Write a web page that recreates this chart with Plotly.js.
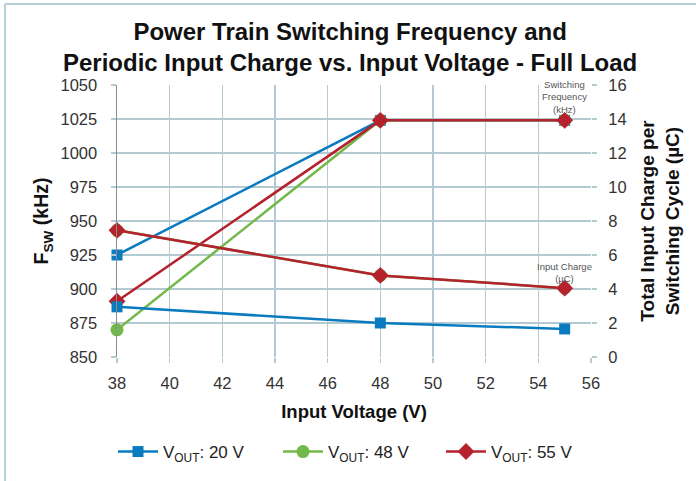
<!DOCTYPE html>
<html>
<head>
<meta charset="utf-8">
<script src="https://cdn.plot.ly/plotly-3.0.1.min.js"></script>
<style>
html,body{margin:0;padding:0;background:#fff;}
#chart{width:696px;height:481px;}
</style>
</head>
<body>
<div id="chart"></div>
<script>
const inputVoltage = [38, 48, 55];
const seriesNames = ['V<sub>OUT</sub>: 20 V', 'V<sub>OUT</sub>: 48 V', 'V<sub>OUT</sub>: 55 V'];
const freq20 = [925, 1024, 1024];
const freq48 = [870, 1024, 1024];
const freq55 = [891, 1024, 1024];
const charge20 = [2.95, 2.0, 1.65];
const charge48 = [7.45, 4.8, 4.05];
const charge55 = [7.45, 4.8, 4.05];
const xTicks = [38, 40, 42, 44, 46, 48, 50, 52, 54, 56];

const colors = ['#0a7bbf', '#72b84a', '#b5222d'];
const symbols = ['square', 'circle', 'diamond'];
const sizes = [11, 13, 13];
const freqs = [freq20, freq48, freq55];
const charges = [charge20, charge48, charge55];
const legendIds = ['legend', 'legend2', 'legend3'];
const legendLeft = [113, 278, 441];

const traces = [];
for (let i = 0; i < 3; i++) {
  traces.push({
    x: inputVoltage, y: freqs[i], yaxis: 'y', type: 'scatter', mode: 'lines+markers',
    name: seriesNames[i], legendgroup: 'g' + i, showlegend: true, cliponaxis: false,
    legend: legendIds[i],
    line: {color: colors[i], width: 2.5},
    marker: {color: colors[i], symbol: symbols[i], size: sizes[i]}
  });
  traces.push({
    x: inputVoltage, y: charges[i], yaxis: 'y2', type: 'scatter', mode: 'lines+markers',
    name: seriesNames[i], legendgroup: 'g' + i, showlegend: false, cliponaxis: false,
    legend: legendIds[i],
    line: {color: colors[i], width: 2.5},
    marker: {color: colors[i], symbol: symbols[i], size: sizes[i]}
  });
}

const L = 117, R = 591, T = 85, B = 357;
const px = v => (v - L) / (R - L);
const py = v => (B - v) / (B - T);
const gridColor = '#b4cad3';
const font = 'Liberation Sans, Arial, sans-serif';

const layout = {
  width: 696, height: 481,
  margin: {l: L, r: 696 - R, t: T, b: 481 - B, autoexpand: false},
  paper_bgcolor: '#ffffff', plot_bgcolor: '#ffffff',
  font: {family: font, color: '#333333', size: 16},
  title: {
    text: '<b>Power Train Switching Frequency and<br>Periodic Input Charge vs. Input Voltage - Full Load</b>',
    font: {family: font, size: 24, color: '#111111'},
    x: 0.503, xanchor: 'center', xref: 'container',
    y: 1 - 40 / 481, yanchor: 'middle', yref: 'container'
  },
  xaxis: {
    range: [38, 56], tickvals: xTicks, showgrid: true, gridcolor: gridColor, gridwidth: 1.5,
    zeroline: false, showline: false, ticks: 'outside', ticklen: 5, tickcolor: gridColor, tickwidth: 1.5,
    tickfont: {size: 16.5, color: '#333'}, ticklabelstandoff: 6,
    title: {text: '<b>Input Voltage (V)</b>', font: {size: 18.5, color: '#111'}, standoff: 14}
  },
  yaxis: {
    range: [850, 1050], dtick: 25, showgrid: true, gridcolor: gridColor, gridwidth: 1.5,
    zeroline: false, showline: true, linecolor: '#8c8c8c', linewidth: 1.5,
    ticks: 'outside', ticklen: 5, tickcolor: gridColor, tickwidth: 1.5,
    tickfont: {size: 16.5, color: '#333'}, ticklabelstandoff: 10,
    title: {text: '<b>F<sub>SW</sub> (kHz)</b>', font: {size: 19.5, color: '#111'}, standoff: 6}
  },
  yaxis2: {
    range: [0, 16], dtick: 2, overlaying: 'y', side: 'right', showgrid: false,
    zeroline: false, showline: false, ticks: 'outside', ticklen: 5, tickcolor: gridColor, tickwidth: 1.5,
    tickfont: {size: 16.5, color: '#333'}, ticklabelstandoff: 8,
    title: {text: '<b>Total Input Charge per<br>Switching Cycle (µC)</b>', font: {size: 19, color: '#111'}, standoff: 15}
  },
  annotations: [
    {x: 55, y: 1024, xref: 'x', yref: 'y', text: 'Switching<br>Frequency<br>(kHz)', showarrow: false,
     yanchor: 'bottom', yshift: 3, font: {size: 9.5, color: '#555'}},
    {x: 55, y: 4.05, xref: 'x', yref: 'y2', text: 'Input Charge<br>(µC)', showarrow: false,
     yanchor: 'bottom', yshift: 2, font: {size: 9.5, color: '#555'}}
  ],
  shapes: [
    {type: 'line', xref: 'paper', yref: 'paper', x0: px(5), x1: px(696), y0: py(4), y1: py(4),
     line: {color: '#b5d0db', width: 2}},
    {type: 'line', xref: 'paper', yref: 'paper', x0: px(5), x1: px(5), y0: py(4), y1: py(481),
     line: {color: '#b5d0db', width: 2}}
  ],
  showlegend: true
};
legendIds.forEach((id, i) => {
  layout[id] = {
    orientation: 'h', xref: 'container', yref: 'container',
    x: legendLeft[i] / 696, xanchor: 'left', y: 1 - 452 / 481, yanchor: 'middle',
    font: {size: 17, color: '#222'}, itemwidth: 40, bgcolor: 'rgba(0,0,0,0)'
  };
});

Plotly.newPlot('chart', traces, layout, {displayModeBar: false, staticPlot: true});
</script>
</body>
</html>
